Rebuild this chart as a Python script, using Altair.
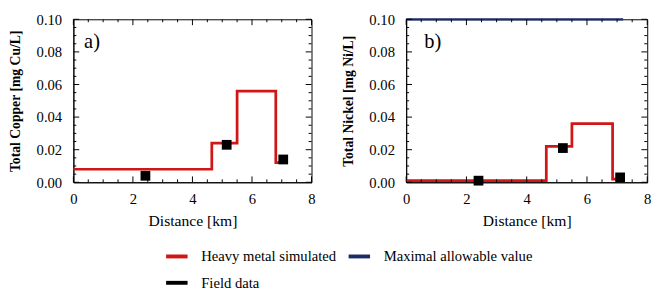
import altair as alt
import pandas as pd

series_names = ["Heavy metal simulated", "Maximal allowable value", "Field data"]
legend_order = ["Heavy metal simulated", "Field data", "Maximal allowable value"]
series_colors = ["#d01616", "#1b2d66", "#000000"]

# Copper (panel a)
cu_sim_x = [0.0, 4.65, 5.5, 6.8, 7.2]
cu_sim_y = [0.008, 0.024, 0.056, 0.012, 0.012]
cu_field_x = [2.42, 5.15, 7.05]
cu_field_y = [0.004, 0.023, 0.014]

# Nickel (panel b)
ni_sim_x = [0.0, 4.65, 5.5, 6.85, 7.2]
ni_sim_y = [0.001, 0.022, 0.036, 0.002, 0.002]
ni_field_x = [2.4, 5.2, 7.1]
ni_field_y = [0.001, 0.021, 0.003]
ni_max_x = [0.0, 7.2]
ni_max_y = [0.1, 0.1]

x_ticks = [0, 2, 4, 6, 8]
y_ticks = [0.0, 0.02, 0.04, 0.06, 0.08, 0.10]
x_minor = [0.5, 1, 1.5, 2.5, 3, 3.5, 4.5, 5, 5.5, 6.5, 7, 7.5]
y_minor = [0.005, 0.01, 0.015, 0.025, 0.03, 0.035, 0.045, 0.05, 0.055,
           0.065, 0.07, 0.075, 0.085, 0.09, 0.095]

color_scale = alt.Scale(domain=series_names, range=series_colors)
serif = "Liberation Serif"

leg = alt.Legend(orient="none", legendX=93, legendY=230, columns=2, title=None,
                 values=legend_order,
                 symbolType="stroke", symbolStrokeWidth=4, symbolSize=484,
                 labelFont=serif, labelFontSize=15, labelColor="black",
                 columnPadding=4, labelOffset=12, rowPadding=6, labelLimit=300)

XS = alt.Scale(domain=[0, 8], nice=False)
YS = alt.Scale(domain=[0, 0.1], nice=False)


def make_axes(ytitle):
    xax = alt.Axis(values=x_ticks, format="d", title="Distance [km]", grid=False,
                   labelFont=serif, labelFontSize=15, labelOverlap=False, ticks=False,
                   labelPadding=10, titleFont=serif, titleFontSize=16,
                   titleFontWeight="normal", titlePadding=6, labelColor="black",
                   titleColor="black", domainColor="black", labelFlush=False)
    yax = alt.Axis(values=y_ticks, format=".2f", title=ytitle, grid=False,
                   labelFont=serif, labelFontSize=15, labelOverlap=False, ticks=False,
                   labelPadding=12, titleFont=serif, titleFontSize=14,
                   titleFontWeight="bold", titlePadding=14, labelColor="black",
                   titleColor="black", domainColor="black", labelFlush=False)
    return xax, yax


def inner_ticks(xvals, yvals, dxl, dyl, xax, yax):
    # short rules drawn just inside the frame on all four sides
    dx = pd.DataFrame({"v": xvals})
    dy = pd.DataFrame({"v": yvals})
    out = []
    for y0, y1 in [(0.0, dyl), (0.1, 0.1 - dyl)]:
        out.append(alt.Chart(dx).mark_rule(color="black", strokeWidth=1).encode(
            x=alt.X("v:Q", scale=XS, axis=xax),
            y=alt.YDatum(y0, scale=YS, axis=yax), y2=alt.Y2Datum(y1)))
    for x0, x1 in [(0.0, dxl), (8.0, 8.0 - dxl)]:
        out.append(alt.Chart(dy).mark_rule(color="black", strokeWidth=1).encode(
            y=alt.Y("v:Q", scale=YS, axis=yax),
            x=alt.XDatum(x0, scale=XS, axis=xax), x2=alt.X2Datum(x1)))
    return out


def panel(sim_x, sim_y, fx, fy, ytitle, label, label_x, width, max_x=None, max_y=None):
    xax, yax = make_axes(ytitle)
    sim = pd.DataFrame({"x": sim_x, "y": sim_y, "s": series_names[0]})
    fld = pd.DataFrame({"x": fx, "y": fy, "s": series_names[2]})
    X = alt.X("x:Q", scale=XS, axis=xax)
    Y = alt.Y("y:Q", scale=YS, axis=yax)
    color = alt.Color("s:N", scale=color_scale, legend=leg)
    layers = []
    layers.append(alt.Chart(sim).mark_line(interpolate="step-after", strokeWidth=2.8).encode(
        x=X, y=Y, color=color))
    if max_x is not None:
        mx = pd.DataFrame({"x": max_x, "y": max_y, "s": series_names[1]})
        layers.append(alt.Chart(mx).mark_line(strokeWidth=2.2).encode(x=X, y=Y, color=color))
    xu = 6 / width * 8
    yu = 6 / 167 * 0.1
    layers += inner_ticks(x_ticks, y_ticks, xu, yu, xax, yax)
    layers += inner_ticks(x_minor, y_minor, xu / 2, yu / 2, xax, yax)
    layers.append(alt.Chart(fld).mark_square(size=100, opacity=1).encode(x=X, y=Y, color=color))
    layers.append(alt.Chart(pd.DataFrame({"t": [label]})).mark_text(
        font=serif, fontSize=21, align="left", baseline="middle", color="black").encode(
        x=alt.XDatum(label_x, scale=XS, axis=xax), y=alt.YDatum(0.0857, scale=YS, axis=yax),
        text="t:N"))
    return alt.layer(*layers).properties(width=width, height=167)

left = panel(cu_sim_x, cu_sim_y, cu_field_x, cu_field_y, "Total Copper [mg Cu/L]", "a)", 0.36, 244)
right = panel(ni_sim_x, ni_sim_y, ni_field_x, ni_field_y, "Total Nickel [mg Ni/L]", "b)", 0.6, 247,
              ni_max_x, ni_max_y)

chart = alt.hconcat(left, right, spacing=25).properties(
    padding={"left": 0, "top": 0, "right": 5, "bottom": 5},
    background="white"
).configure(font=serif).configure_view(stroke="black", strokeWidth=1).configure_axis(
    labelFont=serif, titleFont=serif, labelOverlap=False
).configure_legend(labelFont=serif)

chart.save("out.html", embed_options={"renderer": "svg", "actions": False})
